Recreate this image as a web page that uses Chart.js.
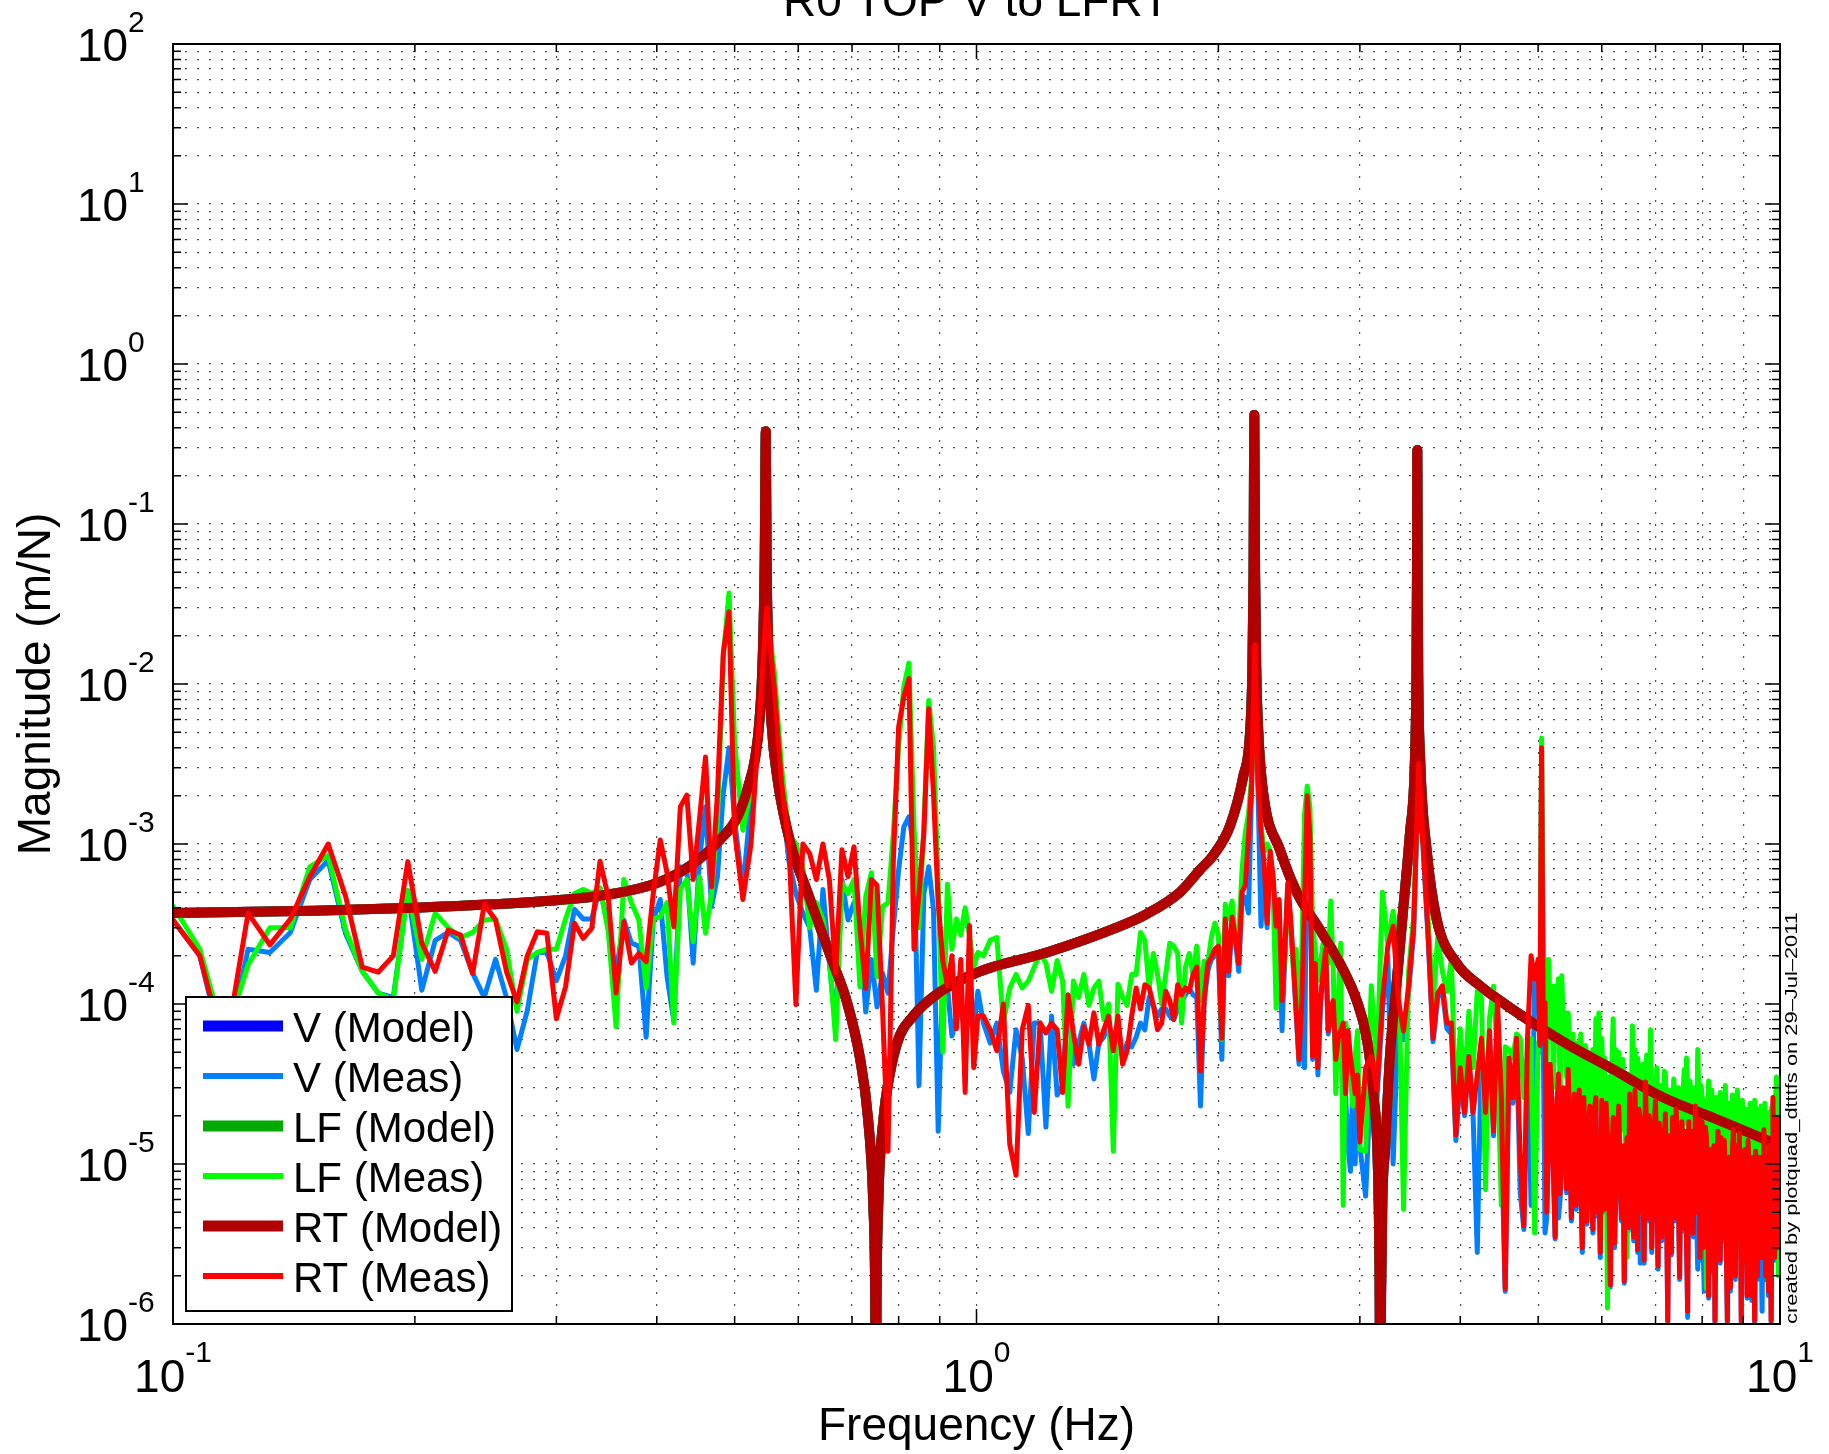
<!DOCTYPE html>
<html>
<head>
<meta charset="utf-8">
<title>R0 TOP V to LFRT</title>
<script src="https://cdn.jsdelivr.net/npm/chart.js@4.4.1/dist/chart.umd.min.js"></script>
<style>
  html, body { margin: 0; padding: 0; background: #fff; }
  canvas { display: block; }
</style>
</head>
<body>
<canvas id="chart" width="1829" height="1454"></canvas>
<script>
/** Title and axis texts. */
const chartTitle = 'R0 TOP V to LFRT';
const xAxisTitle = 'Frequency (Hz)';
const yAxisTitle = 'Magnitude (m/N)';
const sideNote = 'created by plotquad_dtttfs on 29\u2013Jul\u20132011';

/** Decade exponents used for the tick labels (10^n). */
const xDecades = [-1, 0, 1];
const yDecades = [-6, -5, -4, -3, -2, -1, 0, 1, 2];

/** Model transfer function (same curve for V, LF and RT). */
const modelFreq = [
    0.100, 0.150, 0.200, 0.250, 0.300, 0.350, 0.400, 0.440, 0.480, 0.505,
    0.520, 0.530, 0.537, 0.542, 0.545, 0.5467, 0.548, 0.551, 0.556, 0.565,
    0.580, 0.592, 0.615, 0.639, 0.663, 0.689, 0.716, 0.733, 0.744, 0.748,
    0.7495, 0.751, 0.755, 0.758, 0.765, 0.773, 0.796, 0.834, 0.901, 1.01,
    1.223, 1.48, 1.628, 1.792, 1.897, 1.971, 2.068, 2.148, 2.19, 2.205,
    2.212, 2.217, 2.222, 2.229, 2.245, 2.275, 2.386, 2.503, 2.677, 2.834,
    2.973, 3.06, 3.118, 3.163, 3.175, 3.18, 3.188, 3.2, 3.225, 3.27,
    3.334, 3.398, 3.463, 3.513, 3.528, 3.533, 3.537, 3.541, 3.546, 3.565,
    3.634, 3.738, 3.961, 4.233, 4.482, 4.747, 5.375, 6.2, 7.157, 8.26,
    10
];
const modelMag = [
    3.7e-4, 3.83e-4, 4.0e-4, 4.2e-4, 4.45e-4, 4.85e-4, 5.7e-4, 7.3e-4, 1.07e-3, 1.5e-3,
    2.3e-3, 3.4e-3, 6.0e-3, 1.5e-2, 6e-2, 0.38, 6e-2, 1.5e-2, 5.5e-3, 2.6e-3,
    1.28e-3, 8.7e-4, 5.1e-4, 3.0e-4, 1.8e-4, 1.05e-4, 4.6e-5, 1.9e-5, 5.5e-6, 1.5e-6,
    2e-7, 1.5e-6, 6e-6, 1.03e-5, 1.8e-5, 2.8e-5, 5.65e-5, 8.4e-5, 1.19e-4, 1.6e-4,
    2.1e-4, 2.95e-4, 3.65e-4, 5.0e-4, 6.9e-4, 8.5e-4, 1.3e-3, 2.65e-3, 5.0e-3, 1.3e-2,
    5e-2, 0.48, 5e-2, 1.3e-2, 4.5e-3, 2.05e-3, 9.2e-4, 5.0e-4, 2.9e-4, 1.79e-4,
    1.05e-4, 6.1e-5, 2.75e-5, 7.2e-6, 1.5e-6, 2e-7, 1.5e-6, 6e-6, 1.23e-5, 4.7e-5,
    1.37e-4, 4.0e-4, 1.17e-3, 3.4e-3, 1.2e-2, 4.5e-2, 0.29, 4.5e-2, 1.2e-2, 3.5e-3,
    9e-4, 3.4e-4, 1.79e-4, 1.3e-4, 1.05e-4, 8.6e-5, 5.8e-5, 3.9e-5, 2.6e-5, 1.94e-5,
    1.3e-5
];

/** Measurement frequency vector, shared by the three measured responses. */
const measFreq = [
    0.100, 0.108, 0.116, 0.124, 0.132, 0.140, 0.148, 0.156, 0.164, 0.172,
    0.180, 0.188, 0.196, 0.204, 0.212, 0.220, 0.228, 0.236, 0.244, 0.252,
    0.260, 0.268, 0.276, 0.284, 0.292, 0.300, 0.308, 0.316, 0.324, 0.332,
    0.340, 0.348, 0.356, 0.364, 0.372, 0.380, 0.388, 0.396, 0.404, 0.412,
    0.420, 0.428, 0.436, 0.444, 0.452, 0.460, 0.468, 0.476, 0.484, 0.492,
    0.500,
    0.512, 0.524, 0.536, 0.548, 0.560, 0.572, 0.584, 0.596, 0.608, 0.620,
    0.632, 0.644, 0.656, 0.668, 0.680, 0.692, 0.704, 0.716, 0.728, 0.740,
    0.752, 0.764, 0.776, 0.788, 0.800, 0.812, 0.824, 0.836, 0.848, 0.860,
    0.872, 0.884, 0.896, 0.908, 0.920, 0.932, 0.944, 0.956, 0.968, 0.980,
    0.992, 1.004,
    1.02, 1.04, 1.06, 1.08, 1.10, 1.12, 1.14, 1.16, 1.18, 1.20,
    1.22, 1.24, 1.26, 1.28, 1.30, 1.32, 1.34, 1.36, 1.38, 1.40,
    1.42, 1.44, 1.46, 1.48, 1.50, 1.52, 1.54, 1.56, 1.58, 1.60,
    1.62, 1.64, 1.66, 1.68, 1.70, 1.72, 1.74, 1.76, 1.78, 1.80,
    1.82, 1.84, 1.86, 1.88, 1.90, 1.92, 1.94, 1.96, 1.98, 2.00,
    2.02, 2.04, 2.06, 2.08, 2.10, 2.12, 2.14, 2.16, 2.18, 2.20,
    2.22, 2.24, 2.26, 2.28, 2.30, 2.32, 2.34, 2.36, 2.38, 2.40,
    2.42, 2.44, 2.46, 2.48, 2.50, 2.52, 2.54, 2.56, 2.58, 2.60,
    2.62, 2.64, 2.66, 2.68, 2.70, 2.72, 2.74, 2.76, 2.78, 2.80,
    2.82, 2.84, 2.86, 2.88, 2.90, 2.92, 2.94, 2.96, 2.98, 3.00,
    3.05, 3.10, 3.15, 3.20, 3.25, 3.30, 3.35, 3.40, 3.45, 3.50,
    3.55, 3.60, 3.65, 3.70, 3.75, 3.80, 3.85, 3.90, 3.95, 4.00,
    4.05, 4.10, 4.15, 4.20, 4.25, 4.30, 4.35, 4.40, 4.45, 4.50,
    4.55, 4.60, 4.65, 4.70, 4.75, 4.80, 4.85, 4.90, 4.95, 5.00,
    5.025, 5.05, 5.075, 5.10, 5.125, 5.15, 5.175, 5.20, 5.225, 5.25,
    5.275, 5.30, 5.325, 5.35, 5.375, 5.40, 5.425, 5.45, 5.475, 5.50,
    5.525, 5.55, 5.575, 5.60, 5.625, 5.65, 5.675, 5.70, 5.725, 5.75,
    5.775, 5.80, 5.825, 5.85, 5.875, 5.90, 5.925, 5.95, 5.975, 6.00,
    6.025, 6.05, 6.075, 6.10, 6.125, 6.15, 6.175, 6.20, 6.225, 6.25,
    6.275, 6.30, 6.325, 6.35, 6.375, 6.40, 6.425, 6.45, 6.475, 6.50,
    6.525, 6.55, 6.575, 6.60, 6.625, 6.65, 6.675, 6.70, 6.725, 6.75,
    6.775, 6.80, 6.825, 6.85, 6.875, 6.90, 6.925, 6.95, 6.975, 7.00,
    7.025, 7.05, 7.075, 7.10, 7.125, 7.15, 7.175, 7.20, 7.225, 7.25,
    7.275, 7.30, 7.325, 7.35, 7.375, 7.40, 7.425, 7.45, 7.475, 7.50,
    7.525, 7.55, 7.575, 7.60, 7.625, 7.65, 7.675, 7.70, 7.725, 7.75,
    7.775, 7.80, 7.825, 7.85, 7.875, 7.90, 7.925, 7.95, 7.975, 8.00,
    8.025, 8.05, 8.075, 8.10, 8.125, 8.15, 8.175, 8.20, 8.225, 8.25,
    8.275, 8.30, 8.325, 8.35, 8.375, 8.40, 8.425, 8.45, 8.475, 8.50,
    8.525, 8.55, 8.575, 8.60, 8.625, 8.65, 8.675, 8.70, 8.725, 8.75,
    8.775, 8.80, 8.825, 8.85, 8.875, 8.90, 8.925, 8.95, 8.975, 9.00,
    9.025, 9.05, 9.075, 9.10, 9.125, 9.15, 9.175, 9.20, 9.225, 9.25,
    9.275, 9.30, 9.325, 9.35, 9.375, 9.40, 9.425, 9.45, 9.475, 9.50,
    9.525, 9.55, 9.575, 9.60, 9.625, 9.65, 9.675, 9.70, 9.725, 9.75,
    9.775, 9.80, 9.825, 9.85, 9.875, 9.90, 9.925, 9.95, 9.975, 10.00
];

/** V measured magnitude. */
const vMeas = [
    3.35e-4, 2.0e-4, 4.5e-5, 2.2e-4, 2.1e-4, 2.8e-4, 6.0e-4, 7.9e-4, 2.75e-4, 1.6e-4,
    1.17e-4, 1.1e-4, 5.1e-4, 1.22e-4, 2.5e-4, 2.8e-4, 2.5e-4, 1.56e-4, 1.1e-4, 1.9e-4,
    1.1e-4, 5.2e-5, 9.1e-5, 2.1e-4, 2.1e-4, 1.4e-4, 2.0e-4, 3.9e-4, 3.4e-4, 3.4e-4,
    5.3e-4, 3.0e-4, 1.56e-4, 3.35e-4, 2.4e-4, 2.3e-4, 6.2e-5, 3.35e-4, 4.5e-4, 1.48e-4,
    7.9e-5, 7.2e-4, 6.9e-4, 1.8e-4, 7.9e-4, 1.71e-3, 4.06e-4, 6.25e-4, 2.07e-3, 4.0e-3,
    1.41e-3,
    5.2e-4, 1.88e-3, 6.0e-3, 1.5e-2, 6.9e-3, 2.07e-3, 7.9e-4, 4.9e-4, 3.7e-4, 3.0e-4,
    1.22e-4, 5.2e-4, 1.8e-4, 7.2e-5, 6.0e-4, 3.35e-4, 4.3e-4, 3.0e-4, 8.9e-5, 1.9e-4,
    9.6e-5, 1.56e-4, 1.17e-4, 3.0e-4, 6.9e-4, 1.28e-3, 1.48e-3, 9.6e-4, 3.1e-5, 4.9e-4,
    7.2e-4, 3.9e-4, 1.6e-5, 1.55e-4, 1.3e-4, 6.3e-5, 8e-5, 1.0e-4, 6e-5, 9e-5,
    7e-5, 1.2e-4,
    7.6e-5, 5.7e-5, 7.6e-5, 3.8e-5, 2.8e-5, 6.9e-5, 4.6e-5, 1.55e-5, 7.6e-5, 7.6e-5,
    1.7e-5, 8.4e-5, 2.7e-5, 3.1e-5, 1.14e-4, 4.2e-5, 5.7e-5, 7.6e-5, 5.7e-5, 3.4e-5,
    5.7e-5, 6.2e-5, 7.6e-5, 5.7e-5, 7.6e-5, 4.6e-5, 5.7e-5, 5.4e-5, 6.2e-5, 7.6e-5,
    6.9e-5, 1.1e-4, 9.8e-5, 8.4e-5, 9.3e-5, 9.3e-5, 8.4e-5, 8e-5, 9.3e-5, 1.05e-4,
    1.14e-4, 1.26e-4, 1.14e-4, 1.1e-4, 2.3e-5, 1.05e-4, 1.6e-4, 1.9e-4, 2.0e-4, 2.2e-4,
    4.5e-5, 3.2e-4, 1.5e-4, 3.3e-4, 2.5e-4, 1.6e-4, 4.8e-4, 4.6e-4, 3.7e-4, 2.2e-3,
    1.5e-2, 2.3e-3, 3.06e-4, 7e-4, 3.0e-4, 8.5e-4, 5.8e-4, 3.0e-4, 4.2e-4, 6.8e-5,
    2.0e-4, 5.2e-4, 3.2e-4, 1.7e-4, 8.5e-5, 4.2e-5, 1.0e-4, 4.0e-5, 1.9e-3, 1.0e-3,
    4.5e-5, 1.7e-4, 3.6e-5, 1.0e-4, 1.5e-4, 2.1e-4, 6.5e-5, 9e-5, 1.0e-4, 4.3e-5,
    5.8e-5, 6.5e-5, 7.2e-5, 2.6e-5, 1.3e-5, 9e-6, 3.4e-5, 1.0e-5, 3.4e-5, 1.3e-5,
    6.3e-6, 4.0e-5, 2.5e-5, 9e-5, 2.0e-4, 1.0e-5, 9e-5, 6e-5, 1.2e-4, 2.8e-4,
    3.0e-3, 8.5e-4, 2.4e-4, 5.8e-5, 1.1e-4, 1.2e-4, 7e-5, 6.5e-5, 1.4e-5, 3.6e-5,
    2.0e-5, 4.5e-5, 2.0e-5, 2.8e-6, 5.5e-5, 2.0e-5, 6.5e-5, 1.5e-5, 9e-5, 1.5e-5,
    1.6e-6, 4.3e-5, 2.4e-5, 5.8e-5, 6.6e-6, 3.9e-6, 5.8e-5, 5.5e-6, 1.4e-4, 1.8e-4,
    5.0e-5, 3.8e-3, 5.5e-5, 3.7e-6, 4.6e-6, 1.2e-5, 3.9e-5, 2.5e-5, 8.5e-6, 3.4e-6,
    2.1e-5, 4.6e-6, 6.0e-6, 1.05e-5, 2.8e-5, 2.5e-5, 6.6e-6, 3.7e-5, 1.5e-5, 4.4e-6,
    1.8e-5, 2.6e-5, 5.2e-6, 1.4e-5, 2.7e-5, 7.8e-6, 2.8e-6, 2.5e-5, 1.1e-5, 4.2e-6,
    1.6e-5, 2.2e-5, 9.0e-6, 3.7e-6, 2.1e-5, 2.5e-5, 4.7e-6, 1.05e-5, 2.6e-6, 2.4e-5,
    1.1e-5, 5.0e-6, 2.3e-5, 1.4e-5, 5.7e-6, 1.7e-6, 1.05e-5, 1.85e-5, 3.0e-6, 7.8e-6,
    1.5e-5, 2.2e-5, 7.1e-6, 4.4e-6, 1.2e-5, 1.8e-6, 8.5e-6, 1.4e-5, 3.8e-6, 2.6e-5,
    1.2e-5, 7.8e-6, 3.3e-6, 2.8e-5, 9.5e-6, 2.8e-6, 2.1e-5, 2.4e-6, 4.7e-6, 1.05e-5,
    2.4e-6, 3.1e-5, 1.3e-5, 4.4e-6, 1.9e-5, 1.4e-5, 2.8e-6, 7.8e-6, 1.6e-5, 2.4e-5,
    8.5e-6, 2.2e-6, 1.7e-5, 1.4e-5, 3.3e-6, 5.9e-6, 1.2e-5, 1.95e-5, 5.2e-6, 1.0e-6,
    1.4e-5, 8.8e-6, 2.7e-6, 1.85e-5, 1.05e-5, 4.4e-6, 2.1e-5, 1.4e-5, 6.2e-6, 1.9e-6,
    1.05e-5, 1.75e-5, 3.8e-6, 7.8e-6, 1.5e-5, 3.3e-6, 1.1e-6, 1.75e-5, 6.6e-6, 8.8e-6,
    1.5e-5, 3.5e-6, 9.5e-6, 2.2e-5, 4.7e-6, 2.2e-6, 1.8e-5, 2.5e-6, 5.7e-6, 1.75e-5,
    2.8e-6, 1.6e-6, 1.6e-5, 1.4e-5, 6.6e-6, 1.45e-6, 8.5e-6, 1.15e-5, 2.1e-6, 4.4e-6,
    1.2e-5, 1.0e-6, 5.2e-6, 1.05e-5, 1.5e-5, 5.9e-6, 2.4e-6, 1.4e-5, 8.5e-6, 3.3e-6,
    1.3e-5, 8.3e-6, 2.8e-6, 1.0e-6, 7.6e-6, 1.05e-5, 1.6e-6, 5.0e-6, 1.1e-5, 1.55e-5,
    5.7e-6, 1.9e-6, 1.2e-5, 7.8e-6, 3.3e-6, 1.45e-5, 6.6e-6, 1.0e-6, 1.1e-5, 5.9e-6,
    2.4e-6, 1.15e-5, 5.2e-6, 1.45e-6, 1.3e-5, 9.3e-6, 6.6e-6, 2.8e-6, 1.4e-6, 1.05e-5,
    4.7e-6, 1.0e-6, 1.1e-5, 7.3e-6, 1.9e-6, 3.9e-6, 8.5e-6, 1.05e-5, 3.3e-6, 1.2e-6,
    7.6e-6, 1.55e-5, 4.3e-6, 1.9e-6, 1.05e-5, 5.9e-6, 1.5e-6, 1.25e-5, 6.2e-6, 1.0e-6,
    8.5e-6, 2.4e-5, 4.7e-6, 2.5e-6, 1.1e-5, 1.85e-5, 2.8e-6, 4.4e-6, 1.3e-5, 1.05e-5
];

/** LF measured magnitude. */
const lfMeas = [
    4.1e-4, 2.2e-4, 6e-5, 1.75e-4, 3.0e-4, 3.0e-4, 7.2e-4, 8.5e-4, 2.9e-4, 1.6e-4,
    1.17e-4, 1.06e-4, 5.1e-4, 1.9e-4, 3.7e-4, 3.0e-4, 2.6e-4, 2.8e-4, 3.35e-4, 3.4e-4,
    2.2e-4, 9e-5, 1.9e-4, 2.1e-4, 2.2e-4, 2.2e-4, 3.4e-4, 4.9e-4, 5.2e-4, 4.9e-4,
    5.3e-4, 2.9e-4, 7.2e-5, 6.0e-4, 4.3e-4, 3.35e-4, 1.26e-4, 3.4e-4, 3.5e-4, 4.3e-4,
    7.6e-5, 5.2e-4, 6.0e-4, 2.45e-4, 6.25e-4, 2.77e-4, 4.9e-4, 1.41e-3, 1.48e-2, 3.7e-2,
    4.3e-3,
    1.22e-3, 2.2e-3, 6.9e-3, 2.8e-2, 1.22e-2, 3.0e-3, 1.17e-3, 1.0e-3, 7.2e-4, 3.0e-4,
    4.3e-4, 3.35e-4, 1.9e-4, 6e-5, 5.7e-4, 4.9e-4, 6.0e-4, 1.28e-4, 4.7e-4, 6.6e-4,
    1.48e-4, 4.06e-4, 4.3e-4, 1.17e-3, 4.06e-3, 9.6e-3, 1.35e-2, 1.28e-3, 3.0e-4, 1.28e-3,
    7.9e-3, 4.06e-3, 5.7e-4, 5.0e-5, 5.6e-4, 2.2e-4, 3.4e-4, 2.7e-4, 4.0e-4, 2.7e-4,
    1.7e-4, 2.1e-4,
    2.0e-4, 2.5e-4, 2.6e-4, 7.6e-5, 1.26e-4, 1.53e-4, 1.26e-4, 1.39e-4, 1.7e-4, 2.07e-4,
    1.8e-4, 1.2e-4, 1.87e-4, 1.39e-4, 2.3e-5, 1.39e-4, 1.1e-4, 1.53e-4, 9.8e-5, 1.26e-4,
    1.39e-4, 8e-5, 1.0e-4, 1.2e-5, 1.33e-4, 1.1e-4, 9.8e-5, 1.53e-4, 1.53e-4, 2.8e-4,
    2.5e-4, 1.26e-4, 2.07e-4, 1.53e-4, 1.0e-4, 1.53e-4, 2.4e-4, 2.3e-4, 2.07e-4, 7.6e-5,
    1.7e-4, 2.07e-4, 1.53e-4, 2.3e-4, 1.05e-4, 1.85e-4, 1.79e-4, 2.6e-4, 3.2e-4, 2.7e-4,
    6e-5, 4.2e-4, 3.4e-4, 4.4e-4, 2.5e-4, 2.7e-4, 6.8e-4, 1.17e-3, 1.53e-3, 2.6e-3,
    1.2e-2, 3e-3, 1.3e-3, 9e-4, 1.0e-3, 9e-4, 5e-4, 9.4e-5, 3.5e-4, 1.2e-4,
    2.0e-4, 5.5e-4, 3.2e-4, 1.6e-4, 2.2e-4, 4.7e-5, 2.0e-4, 1.53e-3, 2.3e-3, 1.7e-3,
    3.06e-4, 2.2e-4, 1.4e-4, 1.79e-4, 2.4e-4, 2.2e-4, 1.79e-4, 4.4e-4, 1.6e-4, 2.75e-5,
    1.05e-4, 2.4e-4, 5.5e-6, 7.6e-5, 6.1e-5, 3.6e-5, 2.3e-5, 4.7e-5, 6.8e-5, 1.23e-5,
    1.2e-5, 1.3e-4, 4.0e-5, 5.0e-4, 2.4e-4, 3.8e-4, 2.0e-4, 5.2e-6, 1.6e-4, 3.5e-4,
    3.0e-3, 1.1e-3, 3.2e-4, 1.0e-4, 2.6e-4, 1.6e-4, 1.2e-4, 1.9e-4, 2.0e-5, 7e-5,
    3.0e-5, 9e-5, 4.0e-5, 1.2e-4, 1.1e-4, 6.9e-6, 8.1e-5, 1.29e-4, 4.6e-5, 5.5e-6,
    5.4e-5, 5.2e-5, 4.6e-5, 6.5e-5, 6.1e-5, 2.6e-5, 4.6e-5, 6.1e-5, 3.7e-6, 5.7e-5,
    6.0e-5, 4.6e-3, 1.2e-4, 1.9e-4, 4.0e-5, 1.9e-4, 1.0e-4, 1.29e-4, 3.0e-5, 1.29e-4,
    6.0e-5, 1.44e-4, 2.5e-5, 1.5e-4, 7.0e-5, 8.1e-5, 3.5e-5, 8.8e-5, 5.0e-5, 2.6e-5,
    6.5e-5, 3.5e-5, 2.0e-5, 5.7e-5, 4.0e-5, 6.5e-5, 1.5e-5, 4.2e-5, 5.5e-5, 4.6e-5,
    2.0e-5, 2.6e-5, 4.5e-5, 5.2e-5, 1.8e-5, 8.1e-5, 4.0e-5, 8.8e-5, 2.2e-5, 6.1e-5,
    3.0e-5, 4.6e-5, 1.5e-5, 1.26e-6, 3.5e-5, 1.46e-5, 4.0e-5, 8.1e-5, 2.0e-5, 5.2e-5,
    2.4e-5, 5.0e-5, 1.6e-5, 3.9e-5, 4.5e-5, 2.6e-5, 1.2e-5, 2.6e-6, 3.6e-5, 2.6e-5,
    1.5e-5, 7.3e-5, 3.0e-5, 5.2e-5, 1.4e-5, 4.6e-5, 3.5e-5, 2.6e-5, 1.0e-5, 4.2e-5,
    2.0e-5, 3.5e-5, 4.8e-5, 1.46e-5, 2.6e-5, 6.9e-5, 1.2e-5, 3.3e-5, 2.8e-5, 1.95e-5,
    4.0e-5, 2.6e-5, 1.3e-5, 3.1e-5, 2.2e-5, 1.1e-5, 3.8e-5, 3.7e-5, 1.6e-5, 8.2e-6,
    2.9e-5, 2.6e-5, 1.0e-5, 1.95e-5, 3.4e-5, 2.6e-5, 1.3e-5, 1.1e-5, 3.0e-5, 2.5e-5,
    1.5e-5, 6.2e-6, 2.8e-5, 3.9e-5, 1.8e-5, 4.6e-5, 2.4e-5, 1.46e-5, 3.3e-5, 2.6e-5,
    1.2e-5, 8.2e-6, 3.0e-5, 2.3e-5, 1.5e-5, 5.2e-5, 2.6e-5, 1.46e-5, 3.1e-5, 2.6e-5,
    1.6e-5, 4.6e-6, 2.5e-5, 1.66e-6, 1.4e-5, 3.3e-5, 2.1e-5, 1.1e-5, 2.9e-5, 1.95e-5,
    9.0e-6, 4.6e-6, 2.6e-5, 2.4e-5, 1.3e-5, 1.1e-5, 2.8e-5, 2.4e-5, 1.5e-5, 8.2e-6,
    2.2e-5, 3.1e-5, 1.1e-5, 4.6e-6, 2.4e-5, 1.95e-5, 1.2e-5, 8.2e-6, 2.7e-5, 2.6e-5,
    1.3e-5, 6.2e-6, 2.3e-5, 2.9e-5, 1.4e-5, 1.1e-5, 2.0e-5, 2.6e-6, 2.5e-5, 1.95e-5,
    1.2e-5, 8.2e-6, 2.2e-5, 1.46e-5, 1.0e-5, 3.5e-6, 2.4e-5, 1.46e-5, 1.1e-5, 6.2e-6,
    2.0e-5, 2.5e-5, 1.2e-5, 1.1e-5, 2.2e-5, 4.6e-6, 1.3e-5, 1.95e-5, 2.3e-5, 8.2e-6,
    1.6e-5, 1.46e-5, 2.4e-5, 6.2e-6, 1.0e-5, 1.46e-5, 2.1e-5, 2.6e-6, 1.4e-5, 2.1e-5,
    2.3e-5, 4.6e-6, 1.2e-5, 1.46e-5, 2.6e-5, 3.5e-5, 9.0e-6, 2e-6, 2.0e-5, 8.2e-6
];

/** RT measured magnitude. */
const rtMeas = [
    3.35e-4, 2.0e-4, 5e-5, 3.7e-4, 2.34e-4, 3.4e-4, 6.25e-4, 1.0e-3, 4.7e-4, 1.7e-4,
    1.58e-4, 2.0e-4, 7.76e-4, 2.4e-4, 1.6e-4, 2.9e-4, 2.7e-4, 1.55e-4, 4.2e-4, 3.35e-4,
    1.6e-4, 1.03e-4, 2.0e-4, 2.83e-4, 2.77e-4, 8.1e-5, 1.28e-4, 3.2e-4, 2.57e-4, 2.97e-4,
    7.8e-4, 4.7e-4, 1.17e-4, 3.27e-4, 1.8e-4, 2.07e-4, 1.84e-4, 4.9e-4, 1.06e-3, 6.6e-4,
    3.04e-4, 1.71e-3, 2.02e-3, 6.0e-4, 1.41e-3, 3.5e-3, 5.4e-4, 2.07e-3, 1.56e-2, 2.83e-2,
    1.2e-3,
    4.5e-4, 1.0e-3, 5.4e-3, 3.0e-2, 9.6e-3, 2.4e-3, 1.0e-3, 9.9e-5, 1.0e-3, 8.7e-4,
    6.0e-4, 1.0e-3, 6.0e-4, 1.56e-4, 9.2e-4, 6.25e-4, 9.6e-4, 3.0e-4, 1.25e-4, 6.0e-4,
    5.5e-4, 9.2e-5, 1.2e-5, 7.9e-4, 5.4e-3, 8.3e-3, 1.08e-2, 2.2e-4, 4.9e-4, 1.17e-3,
    7.0e-3, 2.07e-3, 4.3e-4, 1.86e-4, 1.3e-4, 2.0e-4, 7e-5, 1.9e-4, 2.8e-5, 3.1e-4,
    4.0e-5, 8.4e-5,
    8.4e-5, 6.9e-5, 5.1e-5, 1.0e-4, 1.33e-5, 8.5e-6, 6.9e-5, 9.8e-5, 2.1e-5, 7.6e-5,
    6.6e-5, 7.6e-5, 6.9e-5, 2.8e-5, 1.14e-4, 6.6e-5, 4.2e-5, 7.2e-5, 5.6e-5, 8.8e-5,
    5.6e-5, 6.9e-5, 8.4e-5, 5.1e-5, 8.4e-5, 4.2e-5, 5.1e-5, 8.4e-5, 1.26e-4, 9.3e-5,
    1.32e-4, 1.26e-4, 9.8e-5, 6.9e-5, 7.6e-5, 1.2e-4, 1.05e-4, 8e-5, 1.32e-4, 1.14e-4,
    1.26e-4, 1.2e-4, 1.53e-4, 1.7e-4, 3.8e-5, 1.05e-4, 1.79e-4, 1.95e-4, 2.2e-4, 2.3e-4,
    6.1e-5, 3.4e-4, 1.6e-4, 3.5e-4, 2.6e-4, 1.79e-4, 5.0e-4, 5.5e-4, 1.1e-3, 2.4e-3,
    1.75e-2, 2.5e-3, 1.17e-3, 7.6e-4, 3.2e-4, 9e-4, 6.2e-4, 3.06e-4, 4.5e-4, 1.05e-4,
    2.2e-4, 5.7e-4, 3.4e-4, 1.79e-4, 8.9e-5, 4.5e-5, 1.05e-4, 4.2e-4, 2.0e-3, 1.1e-3,
    4.7e-5, 1.79e-4, 4.0e-5, 1.05e-4, 1.6e-4, 2.2e-4, 6.8e-5, 9.4e-5, 1.05e-4, 4.5e-5,
    6.1e-5, 6.8e-5, 7.6e-5, 2.75e-5, 6.8e-5, 4.7e-5, 3.6e-5, 2.75e-5, 3.6e-5, 1.37e-5,
    4.0e-5, 4.7e-5, 2.9e-5, 1.05e-4, 2.3e-4, 3.06e-4, 1.05e-4, 6.8e-5, 1.3e-4, 3.06e-4,
    3.2e-3, 9.0e-4, 2.6e-4, 6.1e-5, 1.17e-4, 1.3e-4, 7.6e-5, 7.6e-5, 1.52e-5, 4.0e-5,
    2.1e-5, 4.7e-5, 2.1e-5, 3.6e-5, 6.1e-5, 2.1e-5, 6.8e-5, 1.6e-5, 1.05e-4, 2.6e-5,
    1.66e-6, 4.6e-5, 2.6e-5, 6.1e-5, 1.1e-5, 4.1e-6, 6.1e-5, 2.0e-4, 1.44e-4, 1.9e-4,
    5.5e-5, 4.0e-3, 6.0e-5, 1.02e-4, 5.0e-6, 1.23e-5, 4.2e-5, 2.6e-5, 9.0e-6, 3.5e-6,
    2.2e-5, 3.65e-5, 6.5e-6, 1.1e-5, 3.0e-5, 2.6e-5, 7.0e-6, 3.9e-5, 1.6e-5, 4.6e-6,
    1.9e-5, 2.74e-5, 5.5e-6, 1.46e-5, 2.9e-5, 8.2e-6, 3.0e-6, 2.6e-5, 1.2e-5, 4.4e-6,
    1.7e-5, 2.3e-5, 9.5e-6, 3.9e-6, 2.2e-5, 2.6e-5, 5.0e-6, 1.1e-5, 2.8e-6, 2.5e-5,
    1.2e-5, 5.2e-6, 2.4e-5, 1.46e-5, 6.0e-6, 1.75e-6, 1.1e-5, 1.95e-5, 3.2e-6, 8.2e-6,
    1.6e-5, 2.3e-5, 7.5e-6, 4.6e-6, 1.3e-5, 1.86e-6, 9.0e-6, 1.46e-5, 4.0e-6, 2.74e-5,
    1.3e-5, 8.2e-6, 3.5e-6, 2.9e-5, 1.0e-5, 2.9e-6, 2.2e-5, 1.95e-5, 5.0e-6, 1.1e-5,
    2.5e-6, 3.26e-5, 1.4e-5, 4.6e-6, 2.0e-5, 1.46e-5, 3.0e-6, 8.2e-6, 1.7e-5, 2.5e-5,
    9.0e-6, 2.3e-6, 1.8e-5, 1.46e-5, 3.5e-6, 6.2e-6, 1.3e-5, 2.06e-5, 5.5e-6, 1.05e-6,
    1.5e-5, 9.2e-6, 2.8e-6, 1.95e-5, 1.1e-5, 4.6e-6, 2.2e-5, 1.46e-5, 6.5e-6, 1.97e-6,
    1.1e-5, 1.84e-5, 4.0e-6, 8.2e-6, 1.6e-5, 3.5e-6, 1.2e-6, 1.84e-5, 7.0e-6, 9.2e-6,
    1.6e-5, 3.7e-6, 1.0e-5, 2.3e-5, 5.0e-6, 1.3e-5, 1.9e-5, 2.6e-6, 6.0e-6, 1.84e-5,
    3.0e-6, 6.2e-6, 1.7e-5, 1.46e-5, 7.0e-6, 1.5e-6, 9.0e-6, 1.23e-5, 2.2e-6, 4.6e-6,
    1.3e-5, 1.05e-6, 5.5e-6, 1.1e-5, 1.6e-5, 6.2e-6, 2.5e-6, 1.46e-5, 9.0e-6, 3.5e-6,
    1.4e-5, 8.7e-6, 3.0e-6, 1.05e-6, 8.0e-6, 1.1e-5, 1.7e-6, 5.2e-6, 1.2e-5, 1.64e-5,
    6.0e-6, 2.0e-6, 1.3e-5, 8.2e-6, 3.5e-6, 1.55e-5, 7.0e-6, 1.05e-6, 1.2e-5, 6.2e-6,
    2.5e-6, 1.23e-5, 5.5e-6, 1.5e-6, 1.4e-5, 9.8e-6, 7.0e-6, 2.9e-6, 1.5e-6, 1.1e-5,
    5.0e-6, 1.05e-6, 1.2e-5, 7.7e-6, 2.0e-6, 4.1e-6, 9.0e-6, 1.1e-5, 3.5e-6, 2.6e-6,
    8.0e-6, 1.64e-5, 4.5e-6, 2.0e-6, 1.1e-5, 6.2e-6, 1.6e-6, 1.3e-5, 6.5e-6, 1.05e-6,
    9.0e-6, 2.6e-5, 5.0e-6, 2.6e-6, 1.2e-5, 1.95e-5, 3.0e-6, 4.6e-6, 1.4e-5, 1.1e-5
];

const FONT = "'Liberation Sans', Arial, Helvetica, sans-serif";

/**
 * The series, in legend order. Model lines are thick, measurements thin.
 */
const Series = [
    { label: 'V (Model)',  color: 'rgb(0, 0, 255)',   width: 10, freq: modelFreq, mag: modelMag },
    { label: 'V (Meas)',   color: 'rgb(0, 128, 255)', width: 5,  freq: measFreq,  mag: vMeas },
    { label: 'LF (Model)', color: 'rgb(0, 170, 0)',   width: 10, freq: modelFreq, mag: modelMag },
    { label: 'LF (Meas)',  color: 'rgb(0, 255, 0)',   width: 5,  freq: measFreq,  mag: lfMeas },
    { label: 'RT (Model)', color: 'rgb(178, 0, 0)',   width: 10, freq: modelFreq, mag: modelMag },
    { label: 'RT (Meas)',  color: 'rgb(255, 0, 0)',   width: 5,  freq: measFreq,  mag: rtMeas }
];

/**
 * Tick values 1..9 x 10^n for every decade in the list (last decade only its 10^n).
 */
function logTicks(decades) {
    const ticks = [];
    decades.forEach((d, i) => {
        if (i === decades.length - 1) {
            ticks.push(Math.pow(10, d));
            return;
        }
        for (let m = 1; m <= 9; m++) {
            ticks.push(m * Math.pow(10, d));
        }
    });
    return ticks;
}

function isDecade(v) {
    const l = Math.log10(v);
    return Math.abs(l - Math.round(l)) < 1e-9;
}

/**
 * Draws the MATLAB style decorations: box, inner ticks, labels, titles and legend.
 */
const matlabAxes = {
    id: 'matlabAxes',
    afterDatasetsDraw(chart) {
        const {ctx, chartArea: a, scales: {x, y}} = chart;
        ctx.save();
        ctx.strokeStyle = '#000';
        ctx.lineWidth = 1.5;
        ctx.beginPath();
        x.ticks.forEach(t => {
            const px = x.getPixelForValue(t.value);
            const len = isDecade(t.value) ? 15 : 8;
            ctx.moveTo(px, a.bottom);
            ctx.lineTo(px, a.bottom - len);
            ctx.moveTo(px, a.top);
            ctx.lineTo(px, a.top + len);
        });
        y.ticks.forEach(t => {
            const py = y.getPixelForValue(t.value);
            const len = isDecade(t.value) ? 15 : 8;
            ctx.moveTo(a.left, py);
            ctx.lineTo(a.left + len, py);
            ctx.moveTo(a.right, py);
            ctx.lineTo(a.right - len, py);
        });
        ctx.stroke();
        ctx.lineWidth = 2;
        ctx.strokeRect(a.left, a.top, a.right - a.left, a.bottom - a.top);
        ctx.restore();
    },
    afterDraw(chart) {
        const {ctx, chartArea: a, scales: {x, y}} = chart;
        ctx.save();
        ctx.fillStyle = '#000';
        ctx.textBaseline = 'alphabetic';
        ctx.textAlign = 'left';

        // y tick labels: "10" at a fixed column, exponent after it
        yDecades.forEach(d => {
            const py = y.getPixelForValue(Math.pow(10, d));
            ctx.font = `46px ${FONT}`;
            ctx.fillText('10', 77, py + 17);
            ctx.font = `30px ${FONT}`;
            ctx.fillText(String(d), 128, py - 12);
        });

        // x tick labels, centred on the tick
        xDecades.forEach(d => {
            const px = x.getPixelForValue(Math.pow(10, d));
            ctx.font = `46px ${FONT}`;
            const w1 = ctx.measureText('10').width;
            ctx.font = `30px ${FONT}`;
            const w2 = ctx.measureText(String(d)).width;
            const left = px - (w1 + w2) / 2;
            ctx.font = `46px ${FONT}`;
            ctx.fillText('10', left, a.bottom + 68);
            ctx.font = `30px ${FONT}`;
            ctx.fillText(String(d), left + w1, a.bottom + 38);
        });

        // axis titles and title
        ctx.font = `46px ${FONT}`;
        ctx.textAlign = 'center';
        ctx.fillText(xAxisTitle, (a.left + a.right) / 2, 1440);
        ctx.fillText(chartTitle, (a.left + a.right) / 2, 16);
        ctx.save();
        ctx.translate(50, (a.top + a.bottom) / 2);
        ctx.rotate(-Math.PI / 2);
        ctx.fillText(yAxisTitle, 0, 0);
        ctx.restore();

        // vertical note on the right
        ctx.save();
        ctx.font = `16px ${FONT}`;
        ctx.textAlign = 'left';
        const nw = ctx.measureText(sideNote).width;
        ctx.translate(1797, a.bottom);
        ctx.rotate(-Math.PI / 2);
        ctx.scale(412 / nw, 1);
        ctx.fillText(sideNote, 0, 0);
        ctx.restore();

        // legend box
        const lx = a.left + 13, ly = a.bottom - 327, lw = 326, lh = 314;
        ctx.fillStyle = '#fff';
        ctx.fillRect(lx, ly, lw, lh);
        ctx.strokeStyle = '#000';
        ctx.lineWidth = 2;
        ctx.strokeRect(lx, ly, lw, lh);
        ctx.textAlign = 'left';
        ctx.font = `42px ${FONT}`;
        chart.data.datasets.forEach((ds, i) => {
            const cy = ly + 29 + i * 50;
            ctx.strokeStyle = ds.borderColor;
            ctx.lineWidth = ds.borderWidth + 1;
            ctx.lineCap = 'butt';
            ctx.beginPath();
            ctx.moveTo(lx + 17, cy);
            ctx.lineTo(lx + 97, cy);
            ctx.stroke();
            ctx.fillStyle = '#000';
            ctx.fillText(ds.label, lx + 107, cy + 16);
        });
        ctx.restore();
    }
};

document.addEventListener('DOMContentLoaded', function () {
    const datasets = Series.map((s, i) => ({
        label: s.label,
        data: s.freq.map((f, k) => ({x: f, y: s.mag[k]})),
        borderColor: s.color,
        backgroundColor: s.color,
        borderWidth: s.width,
        pointRadius: 0,
        borderJoinStyle: 'round',
        borderCapStyle: 'round',
        cubicInterpolationMode: s.freq === modelFreq ? 'monotone' : 'default',
        tension: 0,
        clip: 0,
        // later series are drawn on top, like MATLAB's plot order
        order: Series.length - 1 - i
    }));

    const gridOpts = {color: 'rgba(0, 0, 0, 0.7)', lineWidth: 1.2, drawTicks: false};
    const borderOpts = {display: false, dash: [2, 10]};

    new Chart(document.getElementById('chart').getContext('2d'), {
        type: 'line',
        data: {datasets: datasets},
        options: {
            responsive: false,
            animation: false,
            devicePixelRatio: 1,
            layout: {padding: {left: 173, top: 44, right: 49, bottom: 130}},
            plugins: {legend: {display: false}, tooltip: {enabled: false}},
            scales: {
                x: {
                    type: 'logarithmic',
                    min: 0.1,
                    max: 10,
                    ticks: {display: false},
                    grid: gridOpts,
                    border: borderOpts,
                    afterBuildTicks: s => { s.ticks = logTicks(xDecades).map(v => ({value: v})); },
                    afterFit: s => { s.height = 0; }
                },
                y: {
                    type: 'logarithmic',
                    min: 1e-6,
                    max: 100,
                    ticks: {display: false},
                    grid: gridOpts,
                    border: borderOpts,
                    afterBuildTicks: s => { s.ticks = logTicks(yDecades).map(v => ({value: v})); },
                    afterFit: s => { s.width = 0; }
                }
            }
        },
        plugins: [matlabAxes]
    });
});
</script>
</body>
</html>
